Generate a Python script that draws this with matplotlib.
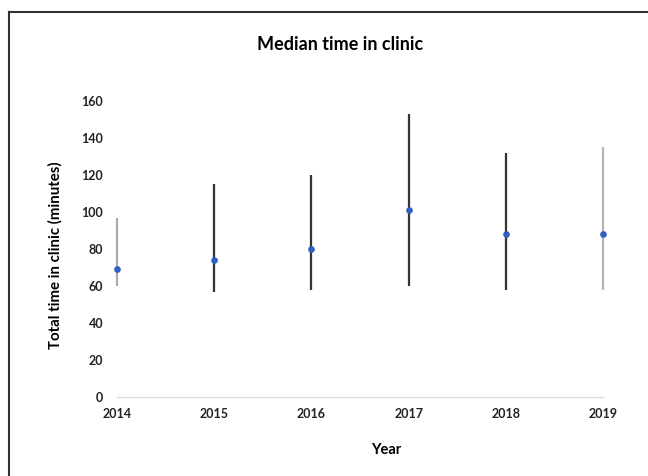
import matplotlib.pyplot as plt
from matplotlib.lines import Line2D

# dati
years = [2014, 2015, 2016, 2017, 2018, 2019]
median_time = [69, 74, 80, 101, 88, 88]
low_time = [60, 57, 58, 60, 58, 58]
high_time = [97, 115, 120, 153, 132, 135]
bar_colors = ['#ababab', '#333333', '#333333', '#333333', '#333333', '#b5b5b5']

plt.rcParams['font.family'] = ['Lato', 'DejaVu Sans']

fig = plt.figure(figsize=(6.48, 4.76), dpi=100)
ax = fig.add_axes([117 / 648, 1 - 397 / 476, 486 / 648, 296 / 476])

# linee verticali min-max
ax.vlines(years, low_time, high_time, colors=bar_colors, linewidth=1.6, clip_on=False)
# mediana
ax.plot(years, median_time, 'o', color='#2f5fc4', markersize=3.8, clip_on=False, zorder=3)

ax.set_xlim(2014, 2019)
ax.set_ylim(0, 160)
ax.set_yticks(range(0, 161, 20))
ax.set_xticks(years)
ax.tick_params(length=0, labelsize=9)
ax.tick_params(axis='y', pad=10)
ax.tick_params(axis='x', pad=8)
for lab in ax.get_xticklabels() + ax.get_yticklabels():
    lab.set_fontweight('bold')
    lab.set_color('#222222')

for s in ['top', 'right', 'left']:
    ax.spines[s].set_visible(False)
ax.spines['bottom'].set_color('#dddddd')
ax.spines['bottom'].set_linewidth(1)

ax.set_ylabel('Total time in clinic (minutes)', fontsize=10.8, fontweight='bold')
ax.yaxis.set_label_coords((55 - 117) / 486, (397 - 255) / 296)
ax.set_xlabel('Year', fontsize=10.5, fontweight='bold')
ax.xaxis.set_label_coords((386 - 117) / 486, (397 - 450) / 296)
ax.xaxis.label.set_va('center')
ax.yaxis.label.set_va('center')
fig.text(340.5 / 648, 1 - 44 / 476, 'Median time in clinic', ha='center', va='center',
         fontsize=13, fontweight='bold')

# cornice in alto e a sinistra
fig.add_artist(Line2D([9 / 648, 1], [1 - 12 / 476, 1 - 12 / 476], color='#333333', linewidth=1.5))
fig.add_artist(Line2D([9 / 648, 9 / 648], [0, 1 - 12 / 476], color='#333333', linewidth=1.5))

plt.savefig('out.png', dpi=100)
